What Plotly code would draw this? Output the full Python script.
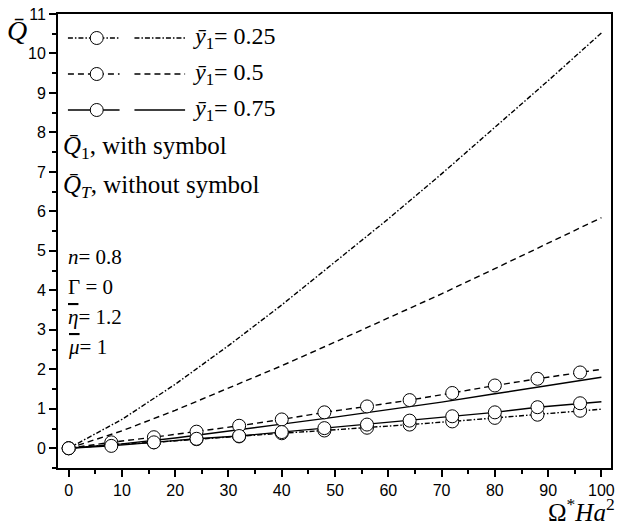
import plotly.graph_objects as go

# ---------------- data ----------------
x_line = [0, 10, 20, 30, 40, 50, 60, 70, 80, 90, 100]
qt_025 = [0, 0.73, 1.62, 2.60, 3.63, 4.71, 5.81, 6.95, 8.12, 9.31, 10.52]
qt_05 = [0, 0.44, 0.96, 1.52, 2.09, 2.69, 3.29, 3.91, 4.55, 5.19, 5.84]
qt_075 = [0, 0.11, 0.26, 0.43, 0.61, 0.79, 0.98, 1.17, 1.38, 1.59, 1.80]

x_sym = [0, 8, 16, 24, 32, 40, 48, 56, 64, 72, 80, 88, 96]
q1_025 = [0, 0.09, 0.15, 0.23, 0.30, 0.38, 0.45, 0.52, 0.60, 0.68, 0.77, 0.85, 0.95]
q1_05 = [0, 0.15, 0.28, 0.42, 0.57, 0.73, 0.91, 1.06, 1.22, 1.40, 1.59, 1.76, 1.92]
q1_075 = [0, 0.06, 0.15, 0.24, 0.31, 0.41, 0.51, 0.60, 0.70, 0.81, 0.91, 1.04, 1.14]
x_end = 100
q1_025_end = 0.99
q1_05_end = 2.00
q1_075_end = 1.18

x_ticks = [0, 10, 20, 30, 40, 50, 60, 70, 80, 90, 100]
y_ticks = [0, 1, 2, 3, 4, 5, 6, 7, 8, 9, 10, 11]

legend_labels = ["0.25", "0.5", "0.75"]
OV = '<span style="text-decoration:overline">'
param_lines = ["<i>n</i>= 0.8", "Γ = 0",
               OV + "<i>η</i></span>= 1.2", OV + "<i>μ</i></span>= 1"]

# ---------------- styles ----------------
DASHDOT = "5px,2px,1.5px,2px"
DASH = "6px,4px"
dashes = [DASHDOT, DASH, "solid"]
LW = 1.4
SERIF = "Liberation Serif"
SANS = "Liberation Sans"

fig = go.Figure()

for y, d in zip([qt_025, qt_05, qt_075], dashes):
    fig.add_trace(go.Scatter(x=x_line, y=y, mode="lines",
                             line=dict(color="black", width=LW, dash=d),
                             showlegend=False, hoverinfo="skip"))

for y, yend, d in zip([q1_025, q1_05, q1_075],
                      [q1_025_end, q1_05_end, q1_075_end], dashes):
    fig.add_trace(go.Scatter(x=x_sym + [x_end], y=y + [yend], mode="lines",
                             line=dict(color="black", width=LW, dash=d),
                             showlegend=False, hoverinfo="skip"))
for y in [q1_025, q1_05, q1_075]:
    fig.add_trace(go.Scatter(x=x_sym, y=y, mode="markers",
                             marker=dict(symbol="circle", size=13, color="white",
                                         line=dict(color="black", width=1)),
                             showlegend=False, hoverinfo="skip"))

# ---------------- layout geometry (pixels) ----------------
W, H = 620, 527
L, R, T, B = 58, 5, 14, 59
PW, PH = W - L - R, H - T - B


def px(xp):
    return (xp - L) / PW


def py(yp):
    return (H - B - yp) / PH


shapes = []
annotations = []

# legend
rows = [38, 74, 110]
for r, d, lab in zip(rows, dashes, legend_labels):
    shapes.append(dict(type="line", xref="paper", yref="paper",
                       x0=px(68), x1=px(120), y0=py(r), y1=py(r),
                       line=dict(color="black", width=LW, dash=d)))
    shapes.append(dict(type="line", xref="paper", yref="paper",
                       x0=px(135), x1=px(186), y0=py(r), y1=py(r),
                       line=dict(color="black", width=LW, dash=d)))
    shapes.append(dict(type="circle", xref="paper", yref="paper",
                       xsizemode="pixel", ysizemode="pixel",
                       xanchor=px(97), yanchor=py(r),
                       x0=-6.5, x1=6.5, y0=-6.5, y1=6.5,
                       fillcolor="white", line=dict(color="black", width=1)))
    annotations.append(dict(xref="paper", yref="paper", x=px(192), y=py(r),
                            xanchor="left", yanchor="middle", showarrow=False,
                            text="<i>ȳ</i><sub>1</sub>= " + lab,
                            font=dict(family=SERIF, size=24, color="black")))

annotations.append(dict(xref="paper", yref="paper", x=px(61), y=py(148),
                        xanchor="left", yanchor="middle", showarrow=False,
                        text="<i>Q̄</i><sub>1</sub>, with symbol",
                        font=dict(family=SERIF, size=25, color="black")))
annotations.append(dict(xref="paper", yref="paper", x=px(61), y=py(187),
                        xanchor="left", yanchor="middle", showarrow=False,
                        text="<i>Q̄</i><sub><i>T</i></sub>, without symbol",
                        font=dict(family=SERIF, size=25, color="black")))

for i, t in enumerate(param_lines):
    annotations.append(dict(xref="paper", yref="paper", x=px(66), y=py(257 + 30 * i),
                            xanchor="left", yanchor="middle", showarrow=False,
                            text=t, font=dict(family=SERIF, size=21, color="black")))

# axis titles
annotations.append(dict(xref="paper", yref="paper", x=px(5), y=py(31),
                        xanchor="left", yanchor="middle", showarrow=False,
                        text="<i>Q̄</i>", font=dict(family=SERIF, size=28, color="black")))
annotations.append(dict(xref="paper", yref="paper", x=px(620), y=py(527),
                        xanchor="right", yanchor="bottom", showarrow=False, borderpad=0,
                        text="Ω<sup>*</sup><i>Ha</i><sup>2</sup>",
                        font=dict(family=SERIF, size=25, color="black")))

axis_common = dict(showgrid=False, zeroline=False, showline=True, linecolor="black",
                   linewidth=2, mirror=True, ticks="outside", ticklen=7, tickwidth=1.5,
                   tickcolor="black", tickfont=dict(family=SANS, size=16, color="black"))

fig.update_layout(
    width=W, height=H,
    margin=dict(l=L, r=R, t=T, b=B),
    paper_bgcolor="white", plot_bgcolor="white",
    showlegend=False,
    xaxis=dict(range=[-2, 101.8], tickvals=x_ticks,
               minor=dict(ticks="outside", ticklen=4, tickwidth=1.5, tickcolor="black", dtick=5, tick0=0),
               **axis_common),
    yaxis=dict(range=[-0.5, 11], tickvals=y_ticks,
               minor=dict(ticks="outside", ticklen=4, tickwidth=1.5, tickcolor="black", dtick=0.5, tick0=0),
               **axis_common),
    shapes=shapes,
    annotations=annotations,
)

fig.write_html("out.html", config={"displayModeBar": False},
               post_script="document.body.style.margin='0';document.body.style.overflow='hidden';")
